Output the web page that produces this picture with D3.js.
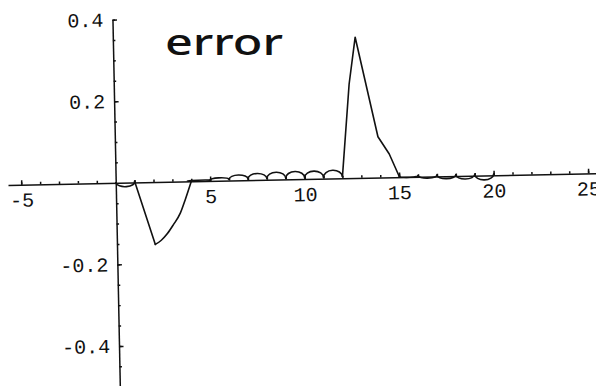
<!DOCTYPE html>
<html>
<head>
<meta charset="utf-8">
<script src="https://cdn.jsdelivr.net/npm/d3@7"></script>
<style>
  body { margin: 0; background: #fff; }
  .axis text { font-family: "Liberation Mono", "DejaVu Sans Mono", monospace; font-size: 20px; fill: #111; }
  .axis path, .axis line { stroke: #111; stroke-width: 1.5; }
  .err { fill: none; stroke: #111; stroke-width: 1.6; stroke-linejoin: round; stroke-linecap: round; }
</style>
</head>
<body>
<svg id="chart" width="596" height="386"></svg>
<script>
// ticks
const xTicks = [-5, 5, 10, 15, 20, 25];
const xTickLabels = ['-5', '5', '10', '15', '20', '25'];
const xMinor = [-5, -4, -3, -2, -1, 1, 2, 3, 4, 5, 6, 7, 8, 9, 10, 11, 12, 13, 14, 15, 16, 17, 18, 19, 20, 21, 22, 23, 24, 25];
const yTicks = [-0.4, -0.2, 0.2, 0.4];
const yTickLabels = ['-0.4', '-0.2', '0.2', '0.4'];
const yMinor = [-0.45, -0.4, -0.35, -0.3, -0.25, -0.2, -0.15, -0.1, -0.05, 0.05, 0.1, 0.15, 0.2, 0.25, 0.3, 0.35, 0.4];

// error curve
const dropPts = [[1, 0.003], [2.03, -0.153]];
const recoverPts = [[2.03, -0.153], [2.35, -0.143], [2.68, -0.127], [3.0, -0.106], [3.39, -0.077], [3.65, -0.046], [4, 0]];
const spikePts = [[12, 0.004], [12.45, 0.23], [12.82, 0.345], [13.92, 0.1], [14.5, 0.057], [15, 0.002]];
// scallops: knots and the extreme value reached between them
const dipKnots = [0, 1];
const dipKnotVals = [0, 0.003];
const dipPeaks = [-0.01];
const bumpKnots = [4, 5, 6, 7, 8, 9, 10, 11, 12];
const bumpKnotVals = [0, 0.002, 0.003, 0.003, 0.003, 0.003, 0.003, 0.003, 0.004];
const bumpPeaks = [0.002, 0.007, 0.013, 0.016, 0.018, 0.019, 0.019, 0.02];
const tailKnots = [15, 16, 17, 18, 19, 20];
const tailKnotVals = [0.002, 0.003, 0.003, 0.003, 0.003, 0.003];
const tailDips = [-0.001, -0.004, -0.006, -0.008, -0.011];

const x = d3.scaleLinear().domain([-5.7, 25.6]).range([8, 8 + 31.3 * 18.9]);
const y0 = 182.8;
const y = d3.scaleLinear().domain([-0.5, 0.4]).range([y0 + 0.5 * 408, y0 - 0.4 * 408]);

const svg = d3.select('#chart');

// the scan is tilted a little
const g = svg.append('g')
  .attr('transform', 'rotate(-1.15,' + x(0) + ',' + y(0) + ')');

// x axis
g.append('g')
  .attr('class', 'axis')
  .attr('transform', 'translate(0,' + y(0) + ')')
  .call(d3.axisBottom(x).tickValues(xMinor).tickSize(-2.5).tickSizeOuter(0).tickFormat(''));

g.append('g')
  .attr('class', 'axis')
  .attr('transform', 'translate(0,' + y(0) + ')')
  .call(d3.axisBottom(x).tickValues(xTicks).tickSize(-4.5).tickSizeOuter(0).tickPadding(8)
    .tickFormat((d, i) => xTickLabels[i]))
  .call(a => a.select('.domain').remove());

// y axis
g.append('g')
  .attr('class', 'axis')
  .attr('transform', 'translate(' + x(0) + ',0)')
  .call(d3.axisLeft(y).tickValues(yMinor).tickSize(-2.5).tickSizeOuter(0).tickFormat(''));

g.append('g')
  .attr('class', 'axis')
  .attr('transform', 'translate(' + x(0) + ',0)')
  .call(d3.axisLeft(y).tickValues(yTicks).tickSize(-4.5).tickSizeOuter(0).tickPadding(9)
    .tickFormat((d, i) => yTickLabels[i]))
  .call(a => a.select('.domain').remove());

// curve pieces
const smooth = d3.line().x(d => x(d[0])).y(d => y(d[1])).curve(d3.curveMonotoneX);
const straight = d3.line().x(d => x(d[0])).y(d => y(d[1]));

// one scallop as an elliptic arc between two knots
function arch(a, va, b, vb, peak) {
  const rx = (x(b) - x(a)) / 2;
  const ry = Math.max(0.3, Math.abs(y((va + vb) / 2) - y(peak)));
  const sweep = peak > (va + vb) / 2 ? 1 : 0;
  return 'M' + x(a) + ',' + y(va) + 'A' + rx + ',' + ry + ' 0 0 ' + sweep + ' ' + x(b) + ',' + y(vb);
}

function scallops(knots, vals, peaks) {
  return peaks.map((p, i) => arch(knots[i], vals[i], knots[i + 1], vals[i + 1], p));
}

const paths = []
  .concat(scallops(dipKnots, dipKnotVals, dipPeaks))
  .concat([straight(dropPts), smooth(recoverPts)])
  .concat(scallops(bumpKnots, bumpKnotVals, bumpPeaks))
  .concat([straight(spikePts)])
  .concat(scallops(tailKnots, tailKnotVals, tailDips));

g.selectAll('path.err')
  .data(paths)
  .enter().append('path')
  .attr('class', 'err')
  .attr('d', d => d);

// handwritten note
svg.append('text')
  .attr('x', 165)
  .attr('y', 55)
  .attr('textLength', 118)
  .attr('lengthAdjust', 'spacingAndGlyphs')
  .style('font-family', '"Noto Sans", sans-serif')
  .style('font-size', '37px')
  .style('font-weight', '500')
  .style('fill', '#111')
  .text('error');
</script>
</body>
</html>
